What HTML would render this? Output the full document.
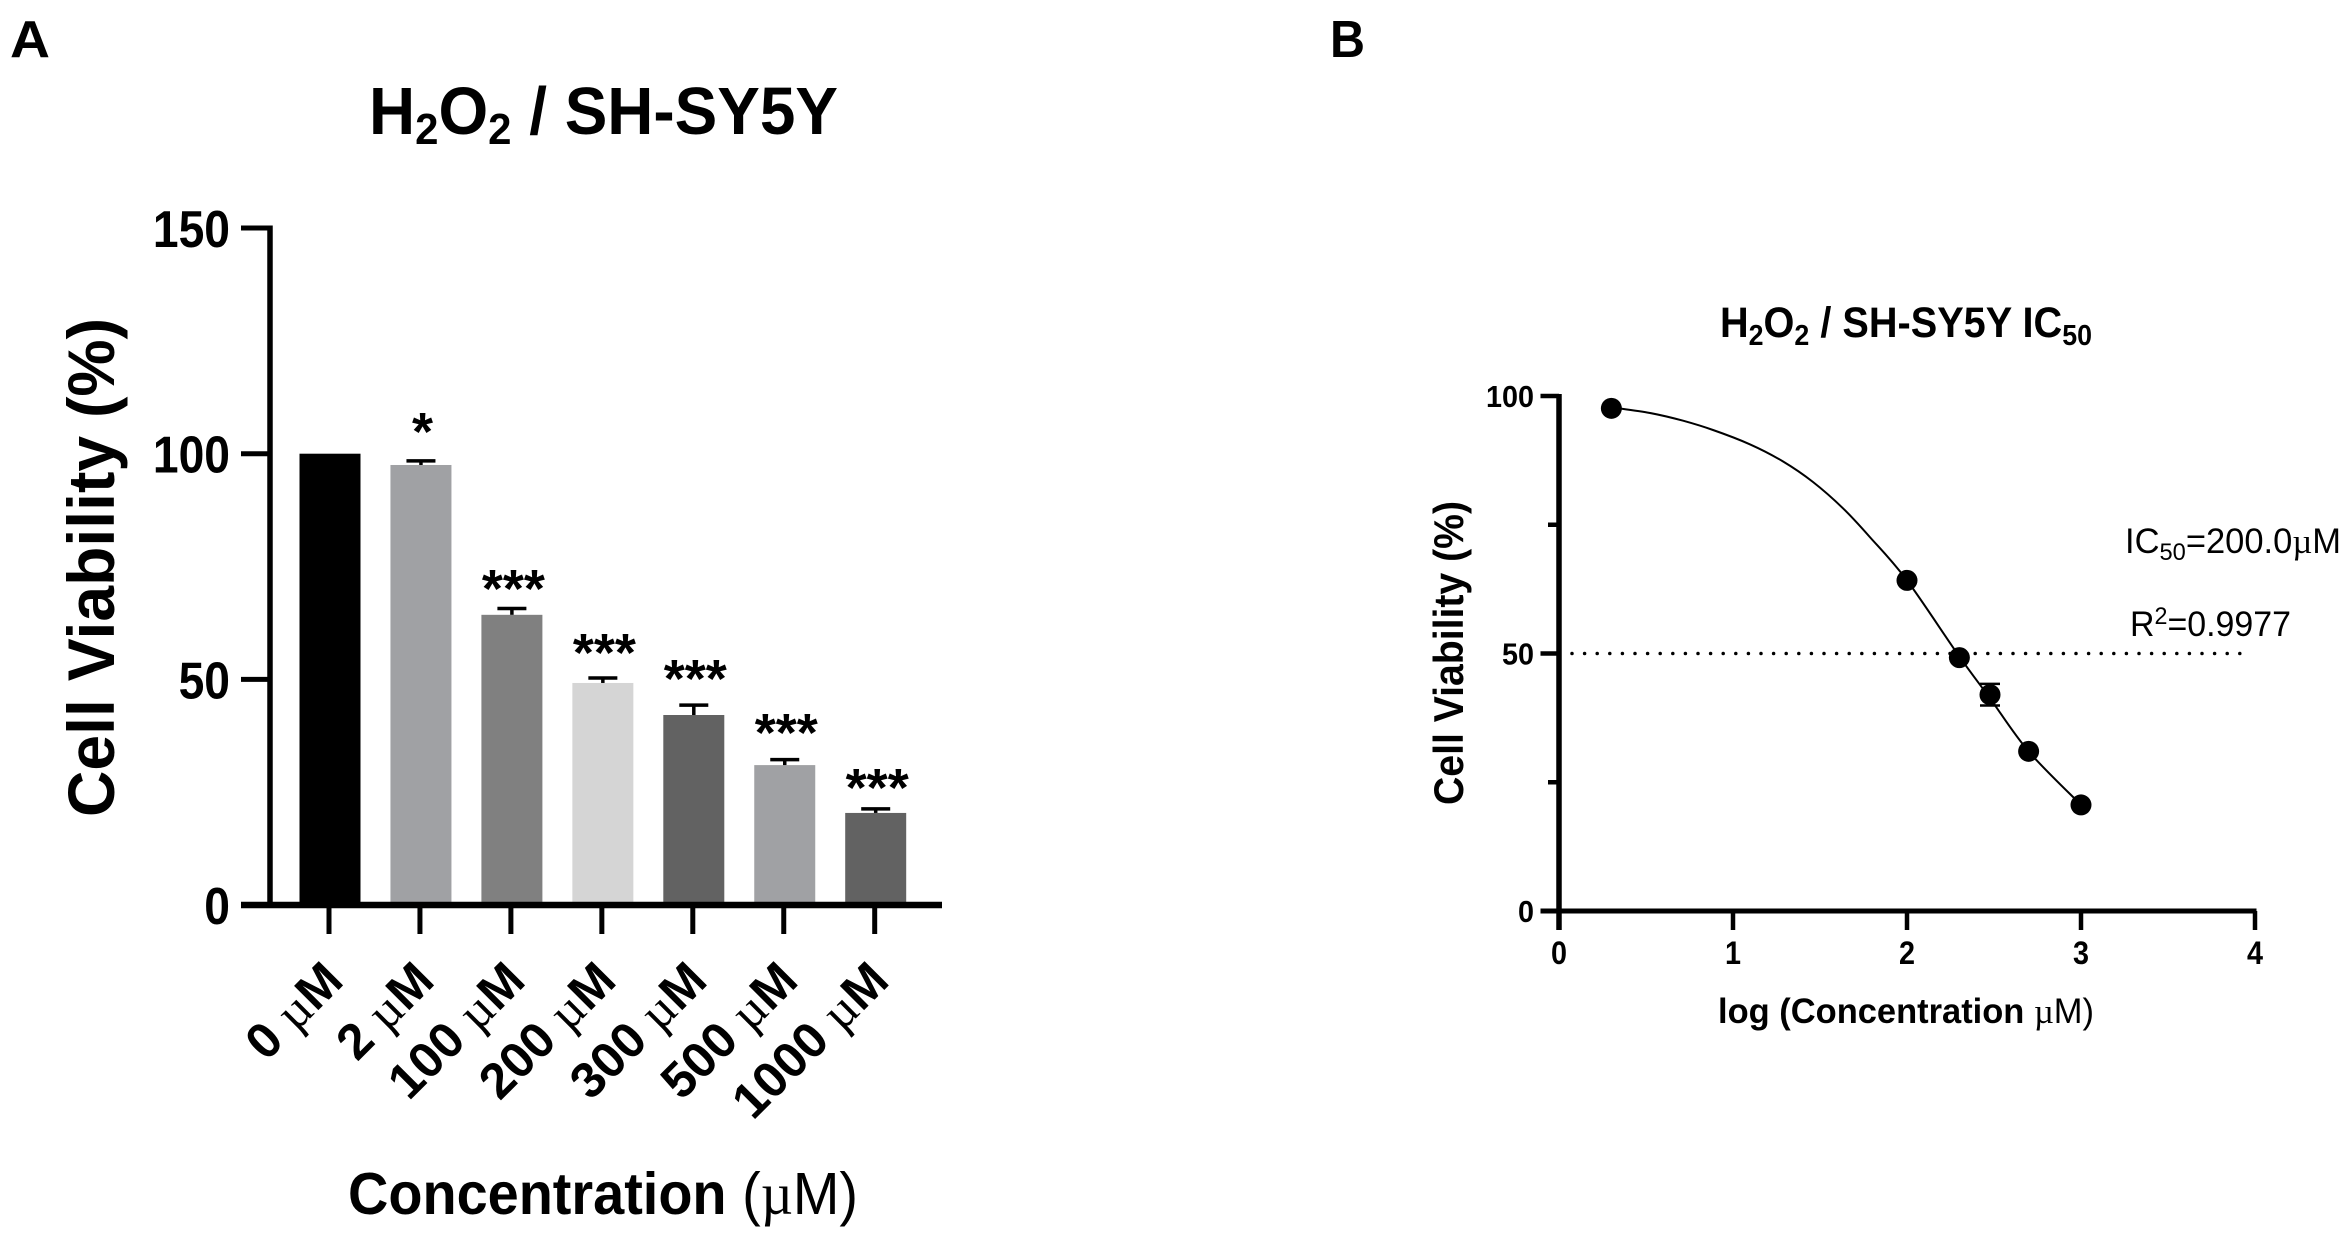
<!DOCTYPE html>
<html lang="en">
<head>
<meta charset="utf-8">
<title>H2O2 / SH-SY5Y cell viability</title>
<style>
html,body{margin:0;padding:0;background:#fff;width:2350px;height:1245px;overflow:hidden}
svg{display:block;position:absolute;left:0;top:0}
text{font-family:"Liberation Sans",sans-serif;fill:#000}
.b{font-weight:700}
.mu{font-family:"Liberation Serif",serif;font-weight:400}
</style>
</head>
<body>
<svg id="fig" xmlns="http://www.w3.org/2000/svg" width="2350" height="1245" viewBox="0 0 2350 1245">
  <rect width="2350" height="1245" fill="#fff"/>

  <text class="b" x="10" y="57" font-size="52" textLength="40" lengthAdjust="spacingAndGlyphs">A</text>
  <text class="b" x="1330" y="57" font-size="52" textLength="35" lengthAdjust="spacingAndGlyphs">B</text>

  <text class="b" x="369" y="134" font-size="67" textLength="469" lengthAdjust="spacingAndGlyphs">H<tspan font-size="44" dy="10">2</tspan><tspan dy="-10">O</tspan><tspan font-size="44" dy="10">2</tspan><tspan dy="-10"> / SH-SY5Y</tspan></text>
  <text class="b" transform="translate(114,817) rotate(-90)" x="0" y="0" font-size="66" textLength="499" lengthAdjust="spacingAndGlyphs">Cell Viability (%)</text>
  <text class="b" x="348" y="1214" font-size="59" textLength="510" lengthAdjust="spacingAndGlyphs">Concentration <tspan font-weight="400">(</tspan><tspan class="mu">µ</tspan><tspan font-weight="400">M)</tspan></text>

  <g id="chart-a"></g>

  <text class="b" x="1720" y="337" font-size="43" textLength="372" lengthAdjust="spacingAndGlyphs">H<tspan font-size="29" dy="8">2</tspan><tspan dy="-8">O</tspan><tspan font-size="29" dy="8">2</tspan><tspan dy="-8"> / SH-SY5Y IC</tspan><tspan font-size="29" dy="8">50</tspan></text>
  <text class="b" transform="translate(1463,805) rotate(-90)" x="0" y="0" font-size="42" textLength="304" lengthAdjust="spacingAndGlyphs">Cell Viability (%)</text>
  <text class="b" x="1718" y="1023" font-size="35" textLength="376" lengthAdjust="spacingAndGlyphs">log (Concentration <tspan class="mu">µ</tspan><tspan font-weight="400">M)</tspan></text>
  <text x="2125" y="553" font-size="35" textLength="216" lengthAdjust="spacingAndGlyphs">IC<tspan font-size="24" dy="7">50</tspan><tspan dy="-7">=200.0</tspan><tspan class="mu">µ</tspan>M</text>
  <text x="2130" y="636" font-size="35" textLength="161" lengthAdjust="spacingAndGlyphs">R<tspan font-size="24" dy="-12">2</tspan><tspan dy="12">=0.9977</tspan></text>

  <g id="chart-b"></g>
</svg>

<script>
// ---- Panel A data ----
const barCategories = ['0', '2', '100', '200', '300', '500', '1000'];
const barValues = [100, 97.5, 64.3, 49.2, 42.1, 31, 20.4];
const barErrors = [0, 0.9, 1.4, 1.1, 2.2, 1.2, 0.9];
const barColors = ['#000000', '#a0a1a4', '#808080', '#d5d5d5', '#626262', '#a0a1a4', '#626262'];
const significance = ['', '*', '***', '***', '***', '***', '***'];
const significanceLevels = [0, 99.5, 64.7, 50.5, 44.8, 32.8, 20.6];
const barTicks = [0, 50, 100, 150];

// ---- Panel B data ----
const doseLogConc = [0.301, 2, 2.301, 2.477, 2.699, 3];
const doseViability = [97.6, 64.2, 49.2, 42, 31, 20.6];
const doseErrors = [0, 0, 0, 2.1, 0, 0];
const fitLogConc = [0.301, 0.523, 0.713, 0.885, 1.098, 1.287, 1.46, 1.632, 1.787, 2, 2.301, 2.477, 2.699, 3];
const fitViability = [97.8, 96.7, 95.2, 93.4, 90.6, 87.3, 83.3, 78.2, 72.6, 64.2, 49.4, 41.3, 31, 20.6];
const doseYMajor = [0, 50, 100];
const doseYMinor = [25, 75];
const doseXTicks = [0, 1, 2, 3, 4];
const halfEffect = 50;

const NS = 'http://www.w3.org/2000/svg';
function make(parent, tag, attrs, text) {
  const el = document.createElementNS(NS, tag);
  for (const k in attrs) el.setAttribute(k, attrs[k]);
  if (text !== undefined) el.textContent = text;
  parent.appendChild(el);
  return el;
}

// ---- Panel A ----
const gA = document.getElementById('chart-a');
const ya = v => 905 - v * 4.513;
const xa = i => 330 + 90.95 * i;

barValues.forEach((v, i) => {
  const bar = make(gA, 'rect', {x: xa(i) - 30.5, y: ya(v), width: 61, height: 905 - ya(v), fill: barColors[i]});
  
  
  if (barErrors[i] > 0) {
    const top = ya(v + barErrors[i]);
    const stem = make(gA, 'line', {x1: xa(i), x2: xa(i), y1: ya(v), y2: top, stroke: '#000', 'stroke-width': 3.5});
    
    
    const cap = make(gA, 'line', {x1: xa(i) - 14.5, x2: xa(i) + 14.5, y1: top, y2: top, stroke: '#000', 'stroke-width': 3.5});
    
    
  }
  if (significance[i]) {
    const star = make(gA, 'text', {x: xa(i) + 1.5, y: ya(significanceLevels[i]) - 6, 'text-anchor': 'middle', 'font-size': 54, 'font-weight': 700}, significance[i]);
    
    
  }
  const tick = make(gA, 'line', {x1: xa(i) - 1, x2: xa(i) - 1, y1: 905, y2: 934, stroke: '#000', 'stroke-width': 5});
  
  
  const ex = xa(i) + 15.5, ey = 983;
  const lab = make(gA, 'text', {transform: 'translate(' + ex + ',' + ey + ') rotate(-45)', 'text-anchor': 'end', 'font-size': 50, 'font-weight': 700});
  
  
  make(lab, 'tspan', {}, barCategories[i] + ' ');
  make(lab, 'tspan', {class: 'mu'}, 'µ');
  make(lab, 'tspan', {}, 'M');
});

const axisAY = make(gA, 'line', {x1: 270, x2: 270, y1: ya(150) - 2.5, y2: 908, stroke: '#000', 'stroke-width': 5.5});


const axisAX = make(gA, 'line', {x1: 241, x2: 942, y1: 905, y2: 905, stroke: '#000', 'stroke-width': 6.5});


barTicks.forEach(t => {
  const tk = make(gA, 'line', {x1: 241, x2: 270, y1: ya(t), y2: ya(t), stroke: '#000', 'stroke-width': 5});
  
  
  const lb = make(gA, 'text', {x: 230, y: ya(t) + 19, 'text-anchor': 'end', 'font-size': 52, 'font-weight': 700, textLength: String(t).length * 25.7, lengthAdjust: 'spacingAndGlyphs'}, t);
  
  
});

// ---- Panel B ----
const gB = document.getElementById('chart-b');
const xb = v => 1559 + v * 174;
const yb = v => 911 - v * 5.15;

const refLine = make(gB, 'line', {x1: 1572, x2: 2252, y1: yb(halfEffect), y2: yb(halfEffect), stroke: '#000', 'stroke-width': 3.5, 'stroke-linecap': 'round', 'stroke-dasharray': '0 12.6'});



// Smooth the read curve samples with a Catmull-Rom spline
const fitPts = fitLogConc.map((v, i) => [xb(v), yb(fitViability[i])]);
let fitPath = 'M' + fitPts[0][0].toFixed(1) + ' ' + fitPts[0][1].toFixed(1);
for (let i = 0; i < fitPts.length - 1; i++) {
  const p0 = fitPts[Math.max(i - 1, 0)], p1 = fitPts[i], p2 = fitPts[i + 1], p3 = fitPts[Math.min(i + 2, fitPts.length - 1)];
  const c1x = p1[0] + (p2[0] - p0[0]) / 6, c1y = p1[1] + (p2[1] - p0[1]) / 6;
  const c2x = p2[0] - (p3[0] - p1[0]) / 6, c2y = p2[1] - (p3[1] - p1[1]) / 6;
  fitPath += ' C' + c1x.toFixed(1) + ' ' + c1y.toFixed(1) + ' ' + c2x.toFixed(1) + ' ' + c2y.toFixed(1) + ' ' + p2[0].toFixed(1) + ' ' + p2[1].toFixed(1);
}
const fit = make(gB, 'path', {d: fitPath, fill: 'none', stroke: '#000', 'stroke-width': 2, 'stroke-linejoin': 'round'});



doseLogConc.forEach((v, i) => {
  if (doseErrors[i] > 0) {
    const hi = yb(doseViability[i] + doseErrors[i]), lo = yb(doseViability[i] - doseErrors[i]);
    const err = make(gB, 'path', {d: 'M' + (xb(v) - 10) + ' ' + hi + ' H' + (xb(v) + 10) + ' M' + xb(v) + ' ' + hi + ' V' + lo + ' M' + (xb(v) - 10) + ' ' + lo + ' H' + (xb(v) + 10), fill: 'none', stroke: '#000', 'stroke-width': 2.5});
    
    
  }
  const pt = make(gB, 'circle', {cx: xb(v), cy: yb(doseViability[i]), r: 10.5, fill: '#000'});
  
  
});

const axisBY = make(gB, 'line', {x1: 1559, x2: 1559, y1: yb(100) - 2, y2: 930, stroke: '#000', 'stroke-width': 5.5});


const axisBX = make(gB, 'line', {x1: 1540.5, x2: 2256.5, y1: 911, y2: 911, stroke: '#000', 'stroke-width': 5});


doseYMajor.forEach(t => {
  const tk = make(gB, 'line', {x1: 1540.5, x2: 1559, y1: yb(t), y2: yb(t), stroke: '#000', 'stroke-width': 4.5});
  
  
  const lb = make(gB, 'text', {x: 1534, y: yb(t) + 11, 'text-anchor': 'end', 'font-size': 31, 'font-weight': 700, textLength: String(t).length * 16, lengthAdjust: 'spacingAndGlyphs'}, t);
  
  
});
doseYMinor.forEach(t => {
  const tk = make(gB, 'line', {x1: 1548, x2: 1559, y1: yb(t), y2: yb(t), stroke: '#000', 'stroke-width': 4.5});
  
  
});
doseXTicks.forEach(t => {
  const tk = make(gB, 'line', {x1: xb(t), x2: xb(t), y1: 911, y2: 930, stroke: '#000', 'stroke-width': 4.5});
  
  
  const lb = make(gB, 'text', {x: xb(t), y: 964, 'text-anchor': 'middle', 'font-size': 32, 'font-weight': 700, textLength: 16, lengthAdjust: 'spacingAndGlyphs'}, t);
  
  
});
</script>
</body>
</html>
